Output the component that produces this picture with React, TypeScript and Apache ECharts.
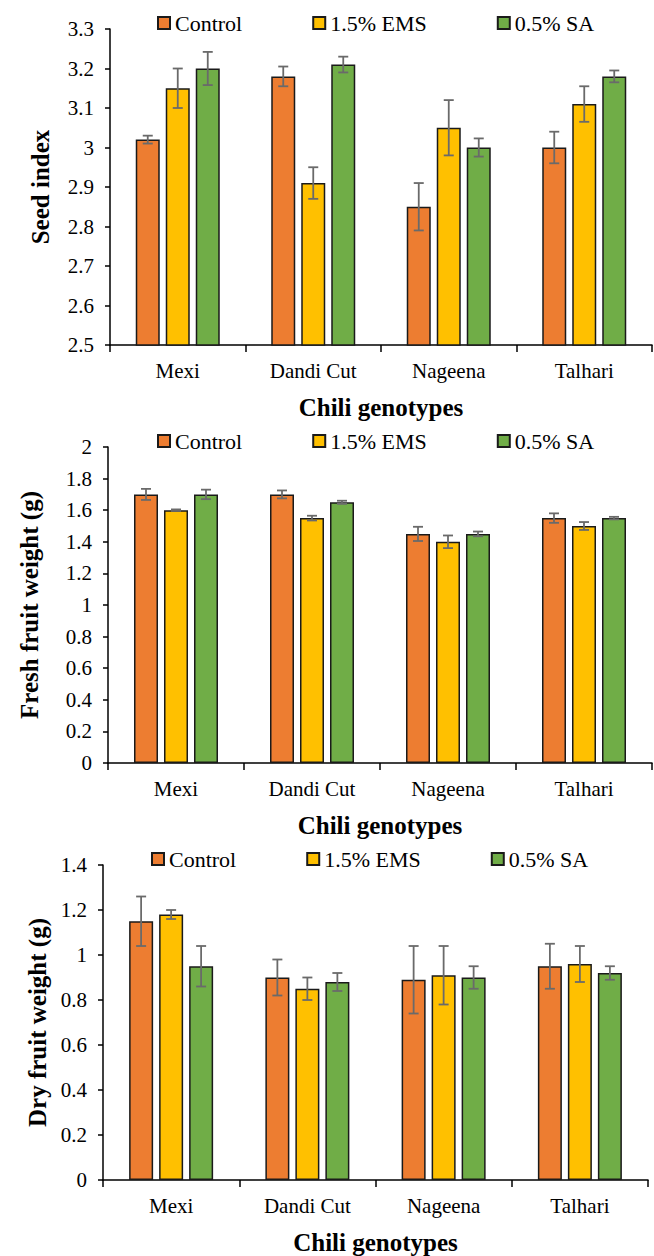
import React, { useEffect, useRef } from "react";
import * as echarts from "echarts";

const CATEGORIES = ["Mexi", "Dandi Cut", "Nageena", "Talhari"];
const TREATMENTS = ["Control", "1.5% EMS", "0.5% SA"];
const COLORS = ["#ED7D31", "#FFC000", "#70AD47"];

// Seed index
const seedControl = [3.02, 3.18, 2.85, 3.0];
const seedEMS = [3.15, 2.91, 3.05, 3.11];
const seedSA = [3.2, 3.21, 3.0, 3.18];
const seedControlErr = [0.01, 0.025, 0.06, 0.04];
const seedEMSErr = [0.05, 0.04, 0.07, 0.045];
const seedSAErr = [0.042, 0.02, 0.023, 0.015];

// Fresh fruit weight (g)
const freshControl = [1.7, 1.7, 1.45, 1.55];
const freshEMS = [1.6, 1.55, 1.4, 1.5];
const freshSA = [1.7, 1.65, 1.45, 1.55];
const freshControlErr = [0.035, 0.025, 0.045, 0.03];
const freshEMSErr = [0.005, 0.015, 0.04, 0.025];
const freshSAErr = [0.03, 0.01, 0.015, 0.008];

// Dry fruit weight (g)
const dryControl = [1.15, 0.9, 0.89, 0.95];
const dryEMS = [1.18, 0.85, 0.91, 0.96];
const drySA = [0.95, 0.88, 0.9, 0.92];
const dryControlErr = [0.11, 0.08, 0.15, 0.1];
const dryEMSErr = [0.02, 0.05, 0.13, 0.08];
const drySAErr = [0.09, 0.04, 0.05, 0.03];

const seedTicks = { min: 2.5, max: 3.3, interval: 0.1 };
const freshTicks = { min: 0, max: 2, interval: 0.2 };
const dryTicks = { min: 0, max: 1.4, interval: 0.2 };

const FONT = "Liberation Serif";
const BAR_WIDTH = 24;
const BAR_GAP_PX = 6;

const panels = [
  {
    yName: "Seed index",
    values: [seedControl, seedEMS, seedSA],
    errors: [seedControlErr, seedEMSErr, seedSAErr],
    ticks: seedTicks,
    grid: { left: 110, right: 2, top: 29, height: 316 },
    legend: { left: 157, top: 12 },
    nameGap: 57,
  },
  {
    yName: "Fresh fruit weight (g)",
    values: [freshControl, freshEMS, freshSA],
    errors: [freshControlErr, freshEMSErr, freshSAErr],
    ticks: freshTicks,
    grid: { left: 108, right: 2, top: 447, height: 316 },
    legend: { left: 157, top: 430 },
    nameGap: 66,
  },
  {
    yName: "Dry fruit weight (g)",
    values: [dryControl, dryEMS, drySA],
    errors: [dryControlErr, dryEMSErr, drySAErr],
    ticks: dryTicks,
    grid: { left: 103, right: 6, top: 865, height: 316 },
    legend: { left: 151, top: 848 },
    nameGap: 52,
  },
];

function buildOption() {
  const grid: any[] = [];
  const xAxis: any[] = [];
  const yAxis: any[] = [];
  const legend: any[] = [];
  const series: any[] = [];

  panels.forEach((p, pi) => {
    grid.push({ ...p.grid, containLabel: false });
    legend.push({
      left: p.legend.left,
      top: p.legend.top,
      padding: 0,
      itemWidth: 12,
      itemHeight: 12,
      itemGap: 70,
      icon: "rect",
      data: TREATMENTS,
      selectedMode: false,
      textStyle: { fontFamily: FONT, fontSize: 22, color: "#000" },
    });
    xAxis.push({
      type: "category",
      gridIndex: pi,
      data: CATEGORIES,
      name: "Chili genotypes",
      nameLocation: "middle",
      nameGap: 50,
      nameTextStyle: { fontFamily: FONT, fontSize: 25, fontWeight: "bold", color: "#000" },
      axisLine: { lineStyle: { color: "#000", width: 1.5 } },
      axisTick: { show: true, length: 7, inside: false, alignWithLabel: false, lineStyle: { color: "#000", width: 1.5 } },
      axisLabel: { fontFamily: FONT, fontSize: 21, color: "#000", margin: 15 },
      splitLine: { show: false },
    });
    yAxis.push({
      type: "value",
      gridIndex: pi,
      min: p.ticks.min,
      max: p.ticks.max,
      interval: p.ticks.interval,
      name: p.yName,
      nameLocation: "middle",
      nameRotate: 90,
      nameGap: p.nameGap,
      nameTextStyle: { fontFamily: FONT, fontSize: 25, fontWeight: "bold", color: "#000" },
      axisLine: { show: true, lineStyle: { color: "#000", width: 1.5 } },
      axisTick: { show: true, length: 5, lineStyle: { color: "#000", width: 1.5 } },
      axisLabel: { fontFamily: FONT, fontSize: 21, color: "#000", margin: 16 },
      splitLine: { show: false },
    });

    TREATMENTS.forEach((name, si) => {
      series.push({
        type: "bar",
        name,
        xAxisIndex: pi,
        yAxisIndex: pi,
        data: p.values[si],
        barWidth: BAR_WIDTH,
        barGap: (BAR_GAP_PX / BAR_WIDTH) * 100 + "%",
        itemStyle: { color: COLORS[si], borderColor: "#1a1a1a", borderWidth: 1.5 },
        z: 2,
      });
    });
    TREATMENTS.forEach((name, si) => {
      const offset = (si - 1) * (BAR_WIDTH + BAR_GAP_PX);
      series.push({
        type: "custom",
        name: name + " error",
        xAxisIndex: pi,
        yAxisIndex: pi,
        z: 5,
        data: p.values[si].map((v, i) => [i, v, p.errors[si][i]]),
        renderItem: (params: any, api: any) => {
          const idx = api.value(0);
          const v = api.value(1);
          const e = api.value(2);
          const hi = api.coord([idx, v + e]);
          const lo = api.coord([idx, v - e]);
          const cx = hi[0] + offset;
          const cap = 5;
          const style = { stroke: "#6a6a6a", lineWidth: 1.8 };
          return {
            type: "group",
            children: [
              { type: "line", shape: { x1: cx, y1: hi[1], x2: cx, y2: lo[1] }, style },
              { type: "line", shape: { x1: cx - cap, y1: hi[1], x2: cx + cap, y2: hi[1] }, style },
              { type: "line", shape: { x1: cx - cap, y1: lo[1], x2: cx + cap, y2: lo[1] }, style },
            ],
          };
        },
      });
    });
  });

  return {
    animation: false,
    backgroundColor: "#fff",
    textStyle: { fontFamily: FONT },
    grid,
    xAxis,
    yAxis,
    legend,
    series,
  };
}

export default function App() {
  const ref = useRef<HTMLDivElement>(null);
  useEffect(() => {
    if (!ref.current) return;
    const chart = echarts.init(ref.current, undefined, { renderer: "svg" });
    chart.setOption(buildOption() as any);
    return () => chart.dispose();
  }, []);
  return (
    <div
      ref={ref}
      style={{ position: "absolute", left: 0, top: 0, width: 654, height: 1256, background: "#fff" }}
    />
  );
}
